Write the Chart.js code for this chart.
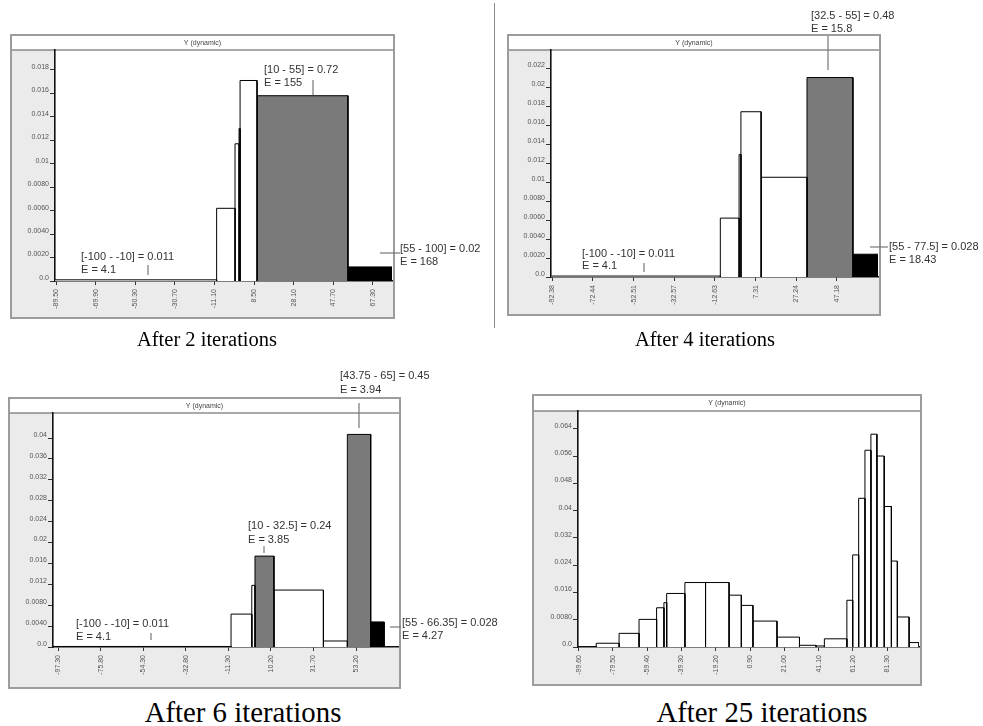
<!DOCTYPE html>
<html><head><meta charset="utf-8">
<script src="https://cdn.jsdelivr.net/npm/chart.js@4.4.1/dist/chart.umd.min.js"></script>
<style>
html,body{margin:0;padding:0;background:#fff;width:983px;height:726px;overflow:hidden;position:relative;font-family:"Liberation Sans",Arial,sans-serif}
canvas{position:absolute}
.cap{position:absolute;font-family:"Liberation Serif","Times New Roman",serif;color:#000;white-space:nowrap;line-height:1;transform:translateX(-50%)}
#sep{position:absolute;left:494px;top:3px;width:1px;height:325px;background:#8a8a8a}
</style></head><body>
<div id="sep"></div>
<canvas id="c1" width="492" height="330" style="left:0px;top:0px"></canvas>
<canvas id="c2" width="486" height="330" style="left:497px;top:0px"></canvas>
<canvas id="c3" width="520" height="335" style="left:0px;top:360px"></canvas>
<canvas id="c4" width="458" height="335" style="left:525px;top:360px"></canvas>
<div class="cap" style="left:207px;top:329px;font-size:20.5px">After 2 iterations</div>
<div class="cap" style="left:705px;top:329px;font-size:20.5px">After 4 iterations</div>
<div class="cap" style="left:243px;top:698px;font-size:28.8px">After 6 iterations</div>
<div class="cap" style="left:762px;top:698px;font-size:28.8px">After 25 iterations</div>
<script>
// ---------- data: After 2 iterations ----------
const it2Edges   = [-100, -10, -0.9, 1.1, 1.6, 10, 55, 100];
const it2Heights = [0.0001, 0.0062, 0.0117, 0.013, 0.0171, 0.0158, 0.0012];
const it2Gray    = [5];
const it2Black   = [6];
const it2XTicks  = [-89.5, -69.9, -50.3, -30.7, -11.1, 8.5, 28.1, 47.7, 67.3];
const it2YTicks  = [0, 0.002, 0.004, 0.006, 0.008, 0.01, 0.012, 0.014, 0.016, 0.018];
const it2YLabels = ["0.0","0.0020","0.0040","0.0060","0.0080","0.01","0.012","0.014","0.016","0.018"];
const it2XRange  = [-90, 76.8];
const it2YMax    = 0.0197;

// ---------- data: After 4 iterations ----------
const it4Edges   = [-100, -10, -0.8, 0.1, 10, 32.5, 55, 77.5];
const it4Heights = [0.0001, 0.0062, 0.0129, 0.0174, 0.0105, 0.021, 0.0024];
const it4Gray    = [5];
const it4Black   = [6];
const it4XTicks  = [-92.38, -72.44, -52.51, -32.57, -12.63, 7.31, 27.24, 47.18];
const it4YTicks  = [0, 0.002, 0.004, 0.006, 0.008, 0.01, 0.012, 0.014, 0.016, 0.018, 0.02, 0.022];
const it4YLabels = ["0.0","0.0020","0.0040","0.0060","0.0080","0.01","0.012","0.014","0.016","0.018","0.02","0.022"];
const it4XRange  = [-93, 67.3];
const it4YMax    = 0.0239;

// ---------- data: After 6 iterations ----------
const it6Edges   = [-100, -10, 0.5, 2.1, 11.7, 36.7, 48.8, 60.6, 67.4];
const it6Heights = [0.0001, 0.0063, 0.0118, 0.0174, 0.0109, 0.00115, 0.0407, 0.0048];
const it6Gray    = [3, 6];
const it6Black   = [7];
const it6XTicks  = [-97.3, -75.8, -54.3, -32.8, -11.3, 10.2, 31.7, 53.2];
const it6YTicks  = [0, 0.004, 0.008, 0.012, 0.016, 0.02, 0.024, 0.028, 0.032, 0.036, 0.04];
const it6YLabels = ["0.0","0.0040","0.0080","0.012","0.016","0.02","0.024","0.028","0.032","0.036","0.04"];
const it6XRange  = [-100, 74.4];
const it6YMax    = 0.0448;

// ---------- data: After 25 iterations ----------
const it25Edges   = [-100, -89.3, -75.9, -64.2, -53.9, -49.6, -48, -37.3, -25.2, -11.4, -4.2, 2.6, 16.7,
                     29.9, 39.6, 44.5, 57.7, 61.1, 64.6, 68.3, 71.8, 75.3, 79.6, 83.8, 87.3, 94.2, 100];
const it25Heights = [0.0001, 0.0011, 0.004, 0.0081, 0.0115, 0.013, 0.0157, 0.0189, 0.0189, 0.0152, 0.0122,
                     0.0076, 0.0029, 0.0005, 0.0003, 0.0024, 0.0137, 0.027, 0.0436, 0.0577, 0.0624, 0.056,
                     0.0412, 0.0252, 0.0088, 0.0013];
const it25Gray    = [];
const it25Black   = [];
const it25XTicks  = [-99.6, -79.5, -59.4, -39.3, -19.2, 0.9, 21.0, 41.1, 61.2, 81.3];
const it25YTicks  = [0, 0.008, 0.016, 0.024, 0.032, 0.04, 0.048, 0.056, 0.064];
const it25YLabels = ["0.0","0.0080","0.016","0.024","0.032","0.04","0.048","0.056","0.064"];
const it25XRange  = [-100, 100];
const it25YMax    = 0.0692;

// ---------- annotation texts ----------
const it2Notes  = [["[10 - 55] = 0.72","E = 155"],["[-100 - -10] = 0.011","E = 4.1"],["[55 - 100] = 0.02","E = 168"]];
const it4Notes  = [["[32.5 - 55] = 0.48","E = 15.8"],["[-100 - -10] = 0.011","E = 4.1"],["[55 - 77.5] = 0.028","E = 18.43"]];
const it6Notes  = [["[43.75 - 65] = 0.45","E = 3.94"],["[10 - 32.5] = 0.24","E = 3.85"],["[-100 - -10] = 0.011","E = 4.1"],["[55 - 66.35] = 0.028","E = 4.27"]];
const it25Notes = [];
const panelTitle = "Y (dynamic)";

Chart.defaults.font.family = '"Liberation Sans", Arial, sans-serif';

function makePanel(p){
  const datasets = [];
  for (let i = 0; i < p.heights.length; i++){
    const a = p.edges[i], b = p.edges[i+1], h = p.heights[i];
    let fill = '#ffffff';
    if (p.gray.includes(i)) fill = '#7a7a7a';
    if (p.black.includes(i)) fill = '#000000';
    datasets.push({
      data: [{x:a,y:0},{x:a,y:h},{x:b,y:h},{x:b,y:0}],
      fill: 'origin', backgroundColor: fill, borderColor: '#000', borderWidth: 1,
      pointRadius: 0, tension: 0
    });
  }
  const ox = p.canvas.x, oy = p.canvas.y;
  const frame = {
    id: 'frame',
    beforeDraw(chart){
      const ctx = chart.ctx, ca = chart.chartArea;
      const fx = p.frame.x - ox, fy = p.frame.y - oy, fw = p.frame.w, fh = p.frame.h;
      const tb = p.titleBottom - oy;
      ctx.save();
      ctx.fillStyle = '#ebebeb'; ctx.fillRect(fx, fy, fw, fh);
      ctx.fillStyle = '#ffffff';
      ctx.fillRect(ca.left, tb, fx + fw - ca.left, ca.bottom - tb);
      ctx.fillRect(fx, fy, fw, tb - fy);
      ctx.strokeStyle = '#555'; ctx.lineWidth = 1.2;
      ctx.beginPath(); ctx.moveTo(fx, tb); ctx.lineTo(fx + fw, tb); ctx.stroke();
      ctx.strokeStyle = '#9c9c9c'; ctx.lineWidth = 2;
      ctx.strokeRect(fx, fy, fw, fh);
      ctx.fillStyle = '#444'; ctx.font = '7px "Liberation Sans", Arial, sans-serif';
      ctx.textAlign = 'center'; ctx.textBaseline = 'middle';
      ctx.fillText(panelTitle, fx + fw / 2, (fy + tb) / 2 + 0.5);
      ctx.restore();
    }
  };
  const notes = {
    id: 'notes',
    afterDraw(chart){
      const ctx = chart.ctx;
      ctx.save();
      p.notes.forEach((lines, k) => {
        const pl = p.notePos[k];
        ctx.fillStyle = '#333'; ctx.font = '11px "Liberation Sans", Arial, sans-serif';
        ctx.textAlign = 'left'; ctx.textBaseline = 'middle';
        lines.forEach((t, j) => ctx.fillText(t, pl.x - ox, pl.y - oy + j * pl.lh));
        ctx.strokeStyle = '#777'; ctx.lineWidth = 1.2;
        ctx.beginPath(); ctx.moveTo(pl.l[0] - ox, pl.l[1] - oy); ctx.lineTo(pl.l[2] - ox, pl.l[3] - oy); ctx.stroke();
      });
      ctx.restore();
    }
  };
  const el = document.getElementById(p.id);
  const cw = el.width, chh = el.height;
  const W = 40, H = 34;
  new Chart(el, {
    type: 'line',
    data: { datasets },
    options: {
      responsive: false, animation: false, devicePixelRatio: 1,
      layout: { padding: {
        left: p.plot.l - ox - W, top: p.plot.t - oy,
        right: cw - (p.plot.r - ox), bottom: chh - (p.plot.b - oy) - H } },
      plugins: { legend: { display: false }, tooltip: { enabled: false } },
      scales: {
        x: {
          type: 'linear', min: p.xRange[0], max: p.xRange[1],
          afterBuildTicks: s => { s.ticks = p.xTicks.map(v => ({ value: v })); },
          afterFit: s => { s.height = H; },
          ticks: { autoSkip: false, minRotation: 90, maxRotation: 90, padding: 4,
                   callback: (v, i) => p.xTicks[i].toFixed(2),
                   font: { size: 7 }, color: '#555' },
          grid: { drawOnChartArea: false, drawTicks: true, tickLength: 4, color: '#333', lineWidth: 1 },
          border: { display: true, color: '#111', width: 1.6 }
        },
        y: {
          type: 'linear', min: 0, max: p.yMax,
          afterBuildTicks: s => { s.ticks = p.yTicks.map(v => ({ value: v })); },
          afterFit: s => { s.width = W; },
          ticks: { autoSkip: false, padding: 1, labelOffset: -3,
                   callback: (v, i) => p.yLabels[i], font: { size: 7 }, color: '#555' },
          grid: { drawOnChartArea: false, drawTicks: true, tickLength: 5, color: '#333', lineWidth: 1 },
          border: { display: true, color: '#111', width: 1.6 }
        }
      }
    },
    plugins: [frame, notes]
  });
}

makePanel({ id:'c1', canvas:{x:0,y:0}, frame:{x:11,y:35,w:383,h:283}, titleBottom:50,
  plot:{l:55,t:50,r:392,b:281},
  edges:it2Edges, heights:it2Heights, gray:it2Gray, black:it2Black,
  xTicks:it2XTicks, yTicks:it2YTicks, yLabels:it2YLabels, xRange:it2XRange, yMax:it2YMax,
  notes:it2Notes,
  notePos:[ {x:264,y:70,lh:13,l:[313,80,313,95]},
            {x:81,y:257,lh:12.5,l:[148,265,148,275]},
            {x:400,y:249,lh:12.5,l:[380,253,400,253]} ] });

makePanel({ id:'c2', canvas:{x:497,y:0}, frame:{x:508,y:35,w:372,h:280}, titleBottom:50,
  plot:{l:551,t:50,r:878,b:277},
  edges:it4Edges, heights:it4Heights, gray:it4Gray, black:it4Black,
  xTicks:it4XTicks, yTicks:it4YTicks, yLabels:it4YLabels, xRange:it4XRange, yMax:it4YMax,
  notes:it4Notes,
  notePos:[ {x:811,y:16,lh:13,l:[828,36,828,70]},
            {x:582,y:254,lh:12,l:[644,263,644,272]},
            {x:889,y:247,lh:12.5,l:[870,247,888,247]} ] });

makePanel({ id:'c3', canvas:{x:0,y:360}, frame:{x:9,y:398,w:391,h:290}, titleBottom:413,
  plot:{l:53,t:413,r:398,b:647},
  edges:it6Edges, heights:it6Heights, gray:it6Gray, black:it6Black,
  xTicks:it6XTicks, yTicks:it6YTicks, yLabels:it6YLabels, xRange:it6XRange, yMax:it6YMax,
  notes:it6Notes,
  notePos:[ {x:340,y:376,lh:14,l:[359,403,359,428]},
            {x:248,y:526,lh:13.5,l:[264,546,264,553]},
            {x:76,y:624,lh:12.7,l:[151,633,151,640]},
            {x:402,y:623,lh:13.3,l:[390,627,401,627]} ] });

makePanel({ id:'c4', canvas:{x:525,y:360}, frame:{x:533,y:395,w:388,h:290}, titleBottom:411,
  plot:{l:578,t:411,r:919,b:647},
  edges:it25Edges, heights:it25Heights, gray:it25Gray, black:it25Black,
  xTicks:it25XTicks, yTicks:it25YTicks, yLabels:it25YLabels, xRange:it25XRange, yMax:it25YMax,
  notes:it25Notes, notePos:[] });
</script>
</body></html>
